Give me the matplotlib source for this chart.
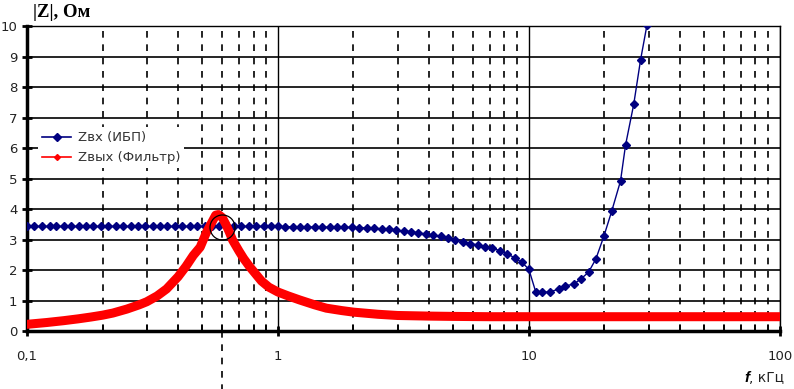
import numpy as np
import matplotlib
matplotlib.use("Agg")
import matplotlib.pyplot as plt
from matplotlib.lines import Line2D

# ==== Données ====
# Zвх (ИБП) : fréquence (кГц) et module (Ом)
f_ibp = [0.1, 0.107, 0.115, 0.123, 0.131, 0.14, 0.15, 0.161, 0.172, 0.184,
         0.197, 0.211, 0.226, 0.242, 0.259, 0.277, 0.296, 0.317, 0.339, 0.363,
         0.389, 0.416, 0.445, 0.476, 0.51, 0.546, 0.584, 0.625, 0.669, 0.716,
         0.766, 0.82, 0.877, 0.939, 1.0,
         1.07, 1.15, 1.23, 1.31, 1.4, 1.5, 1.61, 1.72, 1.84, 1.97,
         2.11, 2.26, 2.42, 2.59, 2.77, 2.96, 3.17, 3.39, 3.63, 3.89,
         4.16, 4.45, 4.76, 5.1, 5.46, 5.84, 6.25, 6.69, 7.16, 7.66,
         8.2, 8.77, 9.39, 10.0,
         10.66, 11.27, 12.1, 13.2, 14.0, 15.1, 16.1, 17.3, 18.5, 19.9,
         21.4, 23.2, 24.3, 26.2, 27.9, 29.6, 30.2]
z_ibp = [3.43, 3.43, 3.43, 3.43, 3.43, 3.43, 3.43, 3.43, 3.43, 3.43,
         3.43, 3.43, 3.43, 3.43, 3.43, 3.43, 3.43, 3.43, 3.43, 3.43,
         3.43, 3.43, 3.43, 3.43, 3.43, 3.43, 3.43, 3.43, 3.43, 3.43,
         3.43, 3.43, 3.43, 3.43, 3.43,
         3.42, 3.42, 3.42, 3.41, 3.41, 3.41, 3.40, 3.40, 3.40, 3.40,
         3.39, 3.38, 3.37, 3.35, 3.33, 3.30, 3.28, 3.26, 3.22, 3.18,
         3.14, 3.10, 3.05, 2.99, 2.93, 2.87, 2.82, 2.77, 2.71, 2.64,
         2.54, 2.40, 2.25, 2.03,
         1.28, 1.27, 1.28, 1.38, 1.48, 1.54, 1.70, 1.93, 2.36, 3.10,
         3.93, 4.92, 6.10, 7.44, 8.90, 10.05, 10.6]

# Zвых (Фильтр)
f_filtre = [0.1, 0.12, 0.14, 0.16, 0.18, 0.2, 0.22, 0.25, 0.28, 0.3,
            0.33, 0.36, 0.4, 0.43, 0.46, 0.49, 0.52, 0.55, 0.565, 0.58,
            0.6, 0.62, 0.64, 0.66, 0.7, 0.73, 0.77, 0.81, 0.86, 0.92, 1.0,
            1.1, 1.22, 1.4, 1.56, 1.8, 2.0, 2.5, 3.0, 4.0, 5.0,
            7.0, 10.0, 20.0, 50.0, 100.0]
z_filtre = [0.22, 0.28, 0.34, 0.40, 0.46, 0.52, 0.59, 0.72, 0.86, 0.96,
            1.15, 1.38, 1.78, 2.12, 2.48, 2.75, 3.25, 3.62, 3.80, 3.82,
            3.72, 3.50, 3.25, 2.98, 2.62, 2.38, 2.12, 1.90, 1.64, 1.44, 1.28,
            1.15, 1.02, 0.86, 0.75, 0.67, 0.62, 0.55, 0.51, 0.49, 0.48,
            0.47, 0.47, 0.47, 0.47, 0.47]

x_ticks = [0.1, 1, 10, 100]
x_labels = ["0,1", "1", "10", "100"]
y_ticks = list(range(0, 11))
f_marque = 0.6      # fréquence marquée (cercle + trait)
z_marque = 3.42

bleu = "#000080"
rouge = "#ff0000"

# ==== Figure ====
fig = plt.figure(figsize=(7.94, 3.89), dpi=100)
ax = fig.add_axes([0.034, 0.149, 0.948, 0.784])

ax.plot(f_ibp, z_ibp, "-", color=bleu, lw=1.0, marker="D", ms=3.6,
        mfc=bleu, mec=bleu, zorder=4)
ax.plot(f_filtre, z_filtre, "-", color=rouge, lw=6.5, solid_capstyle="round",
        zorder=5)

# cercle + trait pointillé sous l'axe
ax.plot([f_marque], [z_marque], "o", ms=18, mfc="none", mec="black", mew=0.9,
        zorder=6)
ax.plot([f_marque, f_marque], [0, -1.95], "--", color="black", lw=1.2,
        dashes=(4, 4), clip_on=False)

ax.set_xscale("log")
ax.set_xlim(0.1, 100)
ax.set_ylim(0, 10)
ax.set_xticks(x_ticks)
ax.set_xticklabels(x_labels)
ax.set_yticks(y_ticks)

# grille
for y in y_ticks[1:-1]:
    ax.axhline(y, color="black", lw=1.2, zorder=1)
ax.grid(True, which="major", axis="x", color="black", lw=1.0)
ax.grid(True, which="minor", axis="x", color="black", lw=1.2,
        linestyle=(0, (4, 4)))

ax.spines["top"].set_linewidth(1.0)
ax.spines["right"].set_linewidth(1.0)
ax.spines["left"].set_linewidth(2.5)
ax.spines["bottom"].set_linewidth(2.5)

ax.tick_params(axis="both", which="major", direction="inout", length=7,
               width=2, labelsize=9.5, labelcolor="#222222")
ax.tick_params(axis="x", which="major", pad=10)
ax.tick_params(axis="x", which="minor", direction="in", length=4, width=1.2,
               labelbottom=False)

# titres des axes
fig.text(0.041, 0.968, "|Z|, Ом", family="Liberation Serif", weight="bold",
         fontsize=13.5, va="center", ha="left")
tf = fig.text(0.937, 0.028, "f", family="Liberation Sans", weight="bold",
              style="italic", fontsize=11, va="center", ha="left")
ax.annotate(", кГц", xy=(1, 0.5), xycoords=tf, va="center", ha="left",
            fontsize=10, color="#222222", annotation_clip=False)

# légende
handles = [Line2D([], [], color=bleu, lw=1.2, marker="D", ms=3.6),
           Line2D([], [], color=rouge, lw=1.2, marker="D", ms=3)]
leg = ax.legend(handles, ["Zвх (ИБП)", "Zвых (Фильтр)"], loc="upper left",
                bbox_to_anchor=(0.006, 0.69), frameon=True, fontsize=9.5,
                handlelength=2.2, handletextpad=0.5, borderpad=0.3,
                labelspacing=0.55)
leg.get_frame().set_edgecolor("none")
leg.get_frame().set_facecolor("white")
leg.get_frame().set_alpha(1)
for t in leg.get_texts():
    t.set_color("#333333")
leg.set_zorder(10)

plt.savefig("out.png", dpi=100)
